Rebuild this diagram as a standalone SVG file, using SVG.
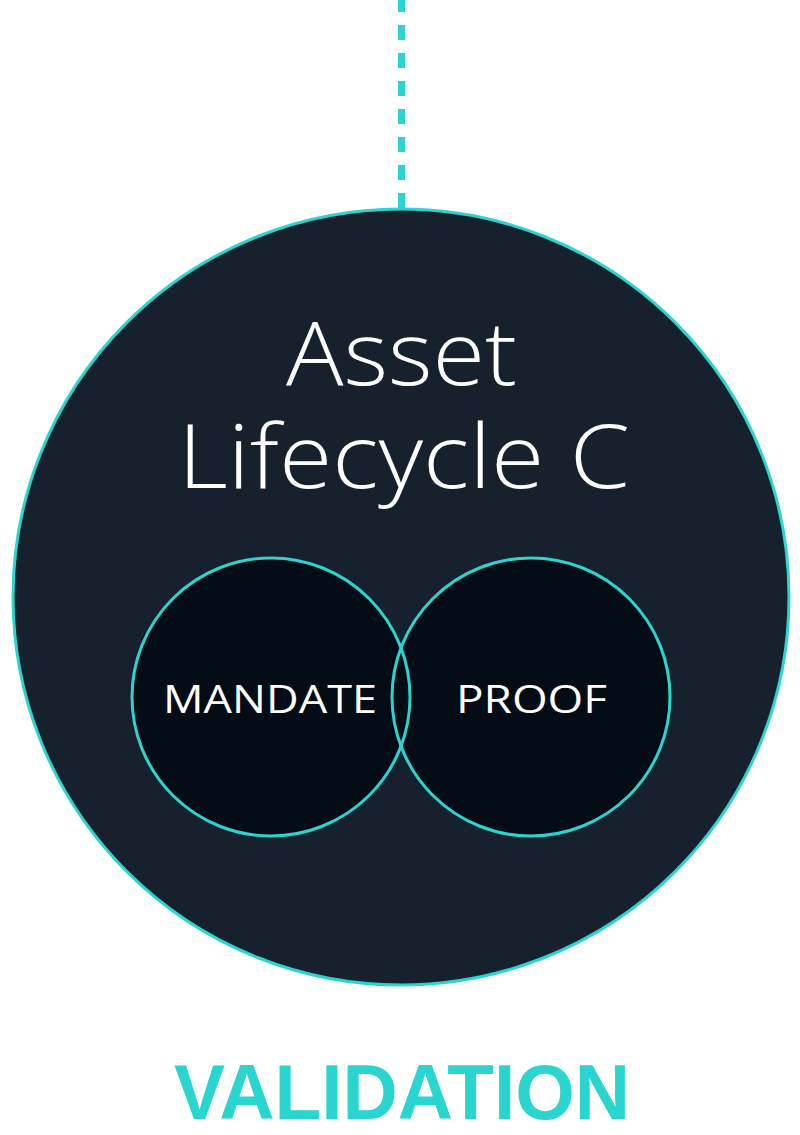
<svg xmlns="http://www.w3.org/2000/svg" width="800" height="1135" viewBox="0 0 800 1135">
  <style>
    .ring { stroke: #2ad5d0; stroke-width: 3; }
    .outline { fill: none; stroke: #2ad5d0; stroke-width: 3; }
    .title { font-family: "Open Sans", "Lato", "DejaVu Sans", sans-serif; font-weight: 300; fill: #ffffff; }
    .label { font-family: "Open Sans", "Lato", "DejaVu Sans", sans-serif; font-weight: 400; fill: #ffffff; font-size: 39px; }
    .caption { font-family: "Liberation Sans", Arial, sans-serif; font-weight: 700; fill: #2ad5d0; font-size: 78px; }
  </style>
  <rect width="800" height="1135" fill="#ffffff"/>
  <g id="connectors">
    <line x1="401.5" y1="-3" x2="401.5" y2="209" stroke="#2ad5d0" stroke-width="7" stroke-dasharray="15 13"/>
  </g>
  <g id="asset-lifecycle-c">
    <circle class="ring" cx="401" cy="597" r="388" fill="#16212d"/>
    <text class="title" x="286" y="385" font-size="88" textLength="231" lengthAdjust="spacingAndGlyphs">Asset</text>
    <text class="title" x="178" y="488" font-size="88" textLength="452" lengthAdjust="spacingAndGlyphs">Lifecycle C</text>
  </g>
  <g id="mandate">
    <circle cx="271" cy="697" r="139" fill="#040c16"/>
    <text class="label" x="163" y="712.5" textLength="214" lengthAdjust="spacingAndGlyphs">MANDATE</text>
  </g>
  <g id="proof">
    <circle cx="531" cy="697" r="139" fill="#040c16"/>
    <text class="label" x="456" y="712.5" textLength="151" lengthAdjust="spacingAndGlyphs">PROOF</text>
  </g>
  <g id="venn-outlines">
    <circle class="outline" cx="271" cy="697" r="139"/>
    <circle class="outline" cx="531" cy="697" r="139"/>
  </g>
  <g id="validation">
    <text class="caption" x="174" y="1119" textLength="456" lengthAdjust="spacingAndGlyphs">VALIDATION</text>
  </g>
</svg>
